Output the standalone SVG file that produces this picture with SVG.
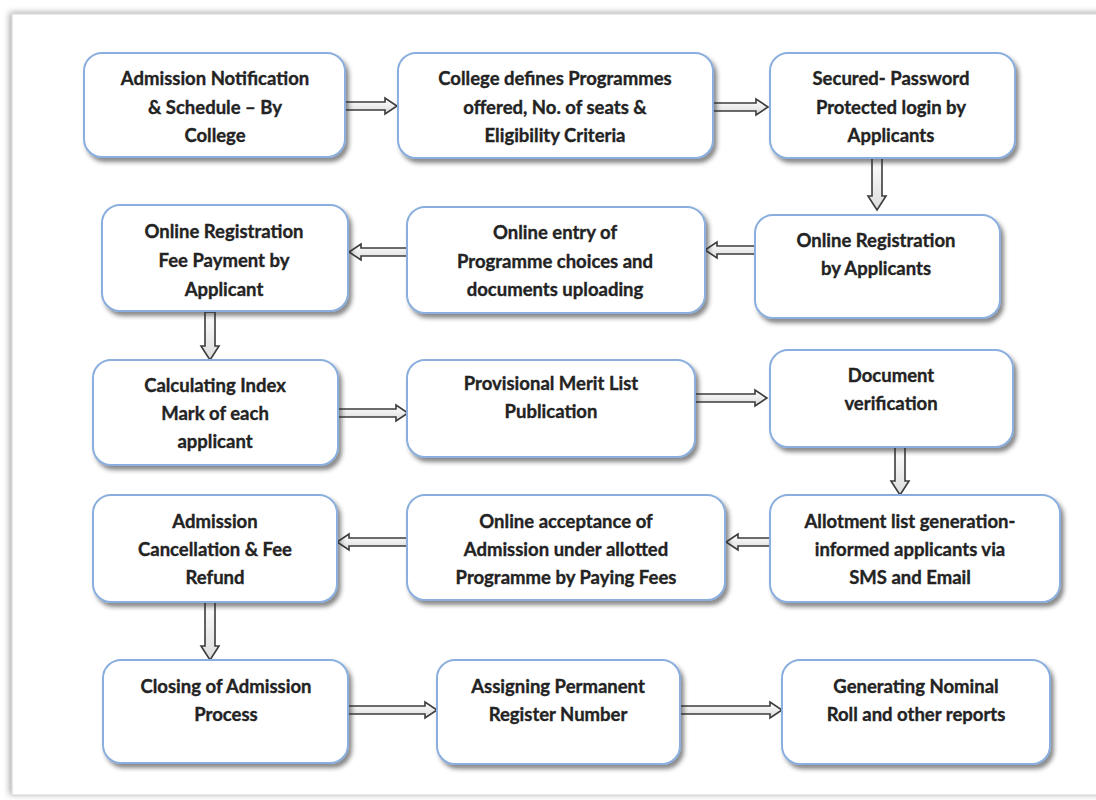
<svg xmlns="http://www.w3.org/2000/svg" width="1096" height="800" viewBox="0 0 1096 800">
<defs>
<filter id="sh" x="-10%" y="-10%" width="125%" height="130%">
<feDropShadow dx="3" dy="4" stdDeviation="2" flood-color="#2a2a2a" flood-opacity="0.55"/>
</filter>
<filter id="pg" x="-5%" y="-5%" width="110%" height="110%">
<feDropShadow dx="-2" dy="-1" stdDeviation="3" flood-color="#000" flood-opacity="0.35"/>
</filter>
<linearGradient id="ag" x1="0" y1="0" x2="0" y2="1">
<stop offset="0" stop-color="#ffffff"/>
<stop offset="1" stop-color="#dcdcdc"/>
</linearGradient>
</defs>
<style>
.box{fill:#ffffff;stroke:#8aaede;stroke-width:2;filter:url(#sh)}
.t{font-family:Lato,"Liberation Sans",sans-serif;font-weight:bold;font-size:18.5px;fill:#232323;stroke:#232323;stroke-width:0.35;text-anchor:middle}
.arr{fill:url(#ag);stroke:#3c3c3c;stroke-width:1.6;stroke-linejoin:miter}
</style>
<rect x="0" y="0" width="1096" height="800" fill="#ffffff"/>
<rect x="12" y="14" width="1100" height="781" fill="#ffffff" stroke="#d0d0d0" stroke-width="1" filter="url(#pg)"/>

<g id="connectors">
<path class="arr" d="M345,102 L385,102 L385,98 L397,106 L385,114 L385,110 L345,110 Z"/>
<path class="arr" d="M713,103 L756,103 L756,99 L768,107 L756,115 L756,111 L713,111 Z"/>
<path class="arr" d="M872,158 L882,158 L882,196 L886,196 L877,210 L868,196 L872,196 Z"/>
<path class="arr" d="M755,246 L717,246 L717,242 L705,250 L717,258 L717,254 L755,254 Z"/>
<path class="arr" d="M407,248 L361,248 L361,244 L349,252 L361,260 L361,256 L407,256 Z"/>
<path class="arr" d="M205,312 L215,312 L215,346 L219,346 L210,360 L201,346 L205,346 Z"/>
<path class="arr" d="M338,409 L396,409 L396,405 L408,413 L396,421 L396,417 L338,417 Z"/>
<path class="arr" d="M695,394 L755,394 L755,390 L767,398 L755,406 L755,402 L695,402 Z"/>
<path class="arr" d="M895,447 L905,447 L905,481 L909,481 L900,495 L891,481 L895,481 Z"/>
<path class="arr" d="M770,538 L738,538 L738,534 L726,542 L738,550 L738,546 L770,546 Z"/>
<path class="arr" d="M407,538 L349,538 L349,534 L337,542 L349,550 L349,546 L407,546 Z"/>
<path class="arr" d="M205,602 L215,602 L215,646 L219,646 L210,660 L201,646 L205,646 Z"/>
<path class="arr" d="M348,706 L425,706 L425,702 L437,710 L425,718 L425,714 L348,714 Z"/>
<path class="arr" d="M680,706 L770,706 L770,702 L782,710 L770,718 L770,714 L680,714 Z"/>
</g>

<g id="n1"><rect class="box" x="84" y="53" width="261" height="104" rx="18"/>
<text class="t" x="215" y="85">Admission Notification</text><text class="t" x="215" y="114">&amp; Schedule – By</text><text class="t" x="215" y="142">College</text></g>
<g id="n2"><rect class="box" x="398" y="53" width="315" height="105" rx="18"/>
<text class="t" x="555" y="85">College defines Programmes</text><text class="t" x="555" y="114">offered, No. of seats &amp;</text><text class="t" x="555" y="142">Eligibility Criteria</text></g>
<g id="n3"><rect class="box" x="770" y="53" width="245" height="105" rx="18"/>
<text class="t" x="891" y="85">Secured- Password</text><text class="t" x="891" y="114">Protected login by</text><text class="t" x="891" y="142">Applicants</text></g>

<g id="n4"><rect class="box" x="102" y="205" width="246" height="106" rx="18"/>
<text class="t" x="224" y="238">Online Registration</text><text class="t" x="224" y="267">Fee Payment by</text><text class="t" x="224" y="296">Applicant</text></g>
<g id="n5"><rect class="box" x="407" y="207" width="298" height="106" rx="18"/>
<text class="t" x="555" y="239">Online entry of</text><text class="t" x="555" y="268">Programme choices and</text><text class="t" x="555" y="296">documents uploading</text></g>
<g id="n6"><rect class="box" x="755" y="215" width="245" height="103" rx="18"/>
<text class="t" x="876" y="247">Online Registration</text><text class="t" x="876" y="275">by Applicants</text></g>

<g id="n7"><rect class="box" x="93" y="360" width="245" height="105" rx="18"/>
<text class="t" x="215" y="392">Calculating Index</text><text class="t" x="215" y="420">Mark of each</text><text class="t" x="215" y="448">applicant</text></g>
<g id="n8"><rect class="box" x="407" y="360" width="288" height="97" rx="18"/>
<text class="t" x="551" y="390">Provisional Merit List</text><text class="t" x="551" y="418">Publication</text></g>
<g id="n9"><rect class="box" x="770" y="350" width="243" height="97" rx="18"/>
<text class="t" x="891" y="382">Document</text><text class="t" x="891" y="410">verification</text></g>

<g id="n10"><rect class="box" x="93" y="495" width="244" height="107" rx="18"/>
<text class="t" x="215" y="528">Admission</text><text class="t" x="215" y="556">Cancellation &amp; Fee</text><text class="t" x="215" y="584">Refund</text></g>
<g id="n11"><rect class="box" x="407" y="495" width="318" height="105" rx="18"/>
<text class="t" x="566" y="528">Online acceptance of</text><text class="t" x="566" y="556">Admission under allotted</text><text class="t" x="566" y="584">Programme by Paying Fees</text></g>
<g id="n12"><rect class="box" x="770" y="495" width="290" height="107" rx="18"/>
<text class="t" x="910" y="528">Allotment list generation-</text><text class="t" x="910" y="556">informed applicants via</text><text class="t" x="910" y="584">SMS and Email</text></g>

<g id="n13"><rect class="box" x="103" y="660" width="245" height="103" rx="18"/>
<text class="t" x="226" y="693">Closing of Admission</text><text class="t" x="226" y="721">Process</text></g>
<g id="n14"><rect class="box" x="437" y="660" width="243" height="104" rx="18"/>
<text class="t" x="558" y="693">Assigning Permanent</text><text class="t" x="558" y="721">Register Number</text></g>
<g id="n15"><rect class="box" x="782" y="660" width="268" height="104" rx="18"/>
<text class="t" x="916" y="693">Generating Nominal</text><text class="t" x="916" y="721">Roll and other reports</text></g>
</svg>
